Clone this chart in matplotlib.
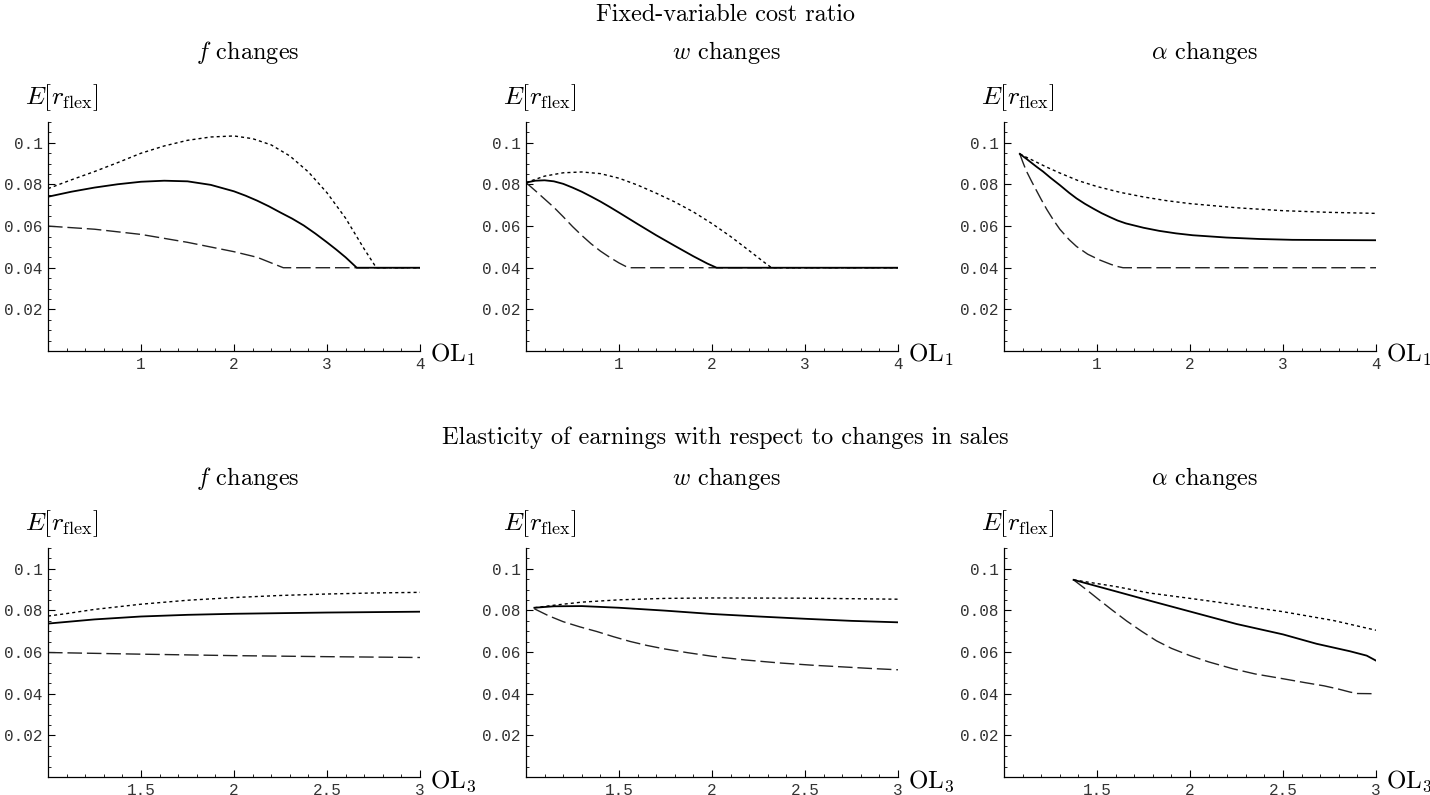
import numpy as np
import matplotlib
matplotlib.use("Agg")
import matplotlib.pyplot as plt
from matplotlib.ticker import MultipleLocator

plt.rcParams['mathtext.fontset'] = 'cm'
plt.rcParams['font.family'] = 'cmr10'
plt.rcParams['axes.unicode_minus'] = False
plt.rcParams['axes.formatter.use_mathtext'] = True

# Row titles and panel titles
row_titles = ["Fixed-variable cost ratio",
              "Elasticity of earnings with respect to changes in sales"]
panel_titles = [r"$f$ changes", r"$w$ changes", r"$\alpha$ changes"]
x_labels = [r"$\mathrm{OL}_1$", r"$\mathrm{OL}_3$"]

# Tick values / labels
y_ticks = [0.02, 0.04, 0.06, 0.08, 0.1]
y_tick_labels = ["0.02", "0.04", "0.06", "0.08", "0.1"]
x_ticks_top = [1, 2, 3, 4]
x_tick_labels_top = ["1", "2", "3", "4"]
x_ticks_bot = [1.5, 2, 2.5, 3]
x_tick_labels_bot = ["1.5", "2", "2.5", "3"]

# ---- Top row: fixed-variable cost ratio (OL1) ----
# f changes
a_dot_x = [0, 0.25, 0.5, 0.75, 1.0, 1.25, 1.5, 1.75, 2.0, 2.2, 2.4, 2.6, 2.8, 3.0, 3.2, 3.4, 3.53, 4.0]
a_dot_y = [0.0780, 0.0822, 0.0862, 0.0905, 0.0950, 0.0985, 0.1012, 0.1028, 0.1033, 0.1020,
           0.0990, 0.0937, 0.0860, 0.0760, 0.0638, 0.0490, 0.040, 0.040]
a_sol_x = [0, 0.25, 0.5, 0.75, 1.0, 1.25, 1.5, 1.75, 2.0, 2.125, 2.25, 2.375, 2.5, 2.625,
           2.75, 2.875, 3.0, 3.1, 3.2, 3.26, 3.32, 4.0]
a_sol_y = [0.0741, 0.0765, 0.0785, 0.0801, 0.0813, 0.0818, 0.0815, 0.0798, 0.0767, 0.0746,
           0.0722, 0.0695, 0.0665, 0.0636, 0.0603, 0.0564, 0.0522, 0.0487, 0.0450, 0.0425,
           0.040, 0.040]
a_das_x = [0, 0.5, 1.0, 1.5, 2.0, 2.25, 2.53, 4.0]
a_das_y = [0.0600, 0.0585, 0.0560, 0.0522, 0.0477, 0.0450, 0.040, 0.040]

# w changes
b_dot_x = [0, 0.2, 0.4, 0.6, 0.8, 1.0, 1.2, 1.4, 1.6, 1.8, 2.0, 2.2, 2.4, 2.55, 2.64, 4.0]
b_dot_y = [0.0809, 0.0840, 0.0856, 0.0860, 0.0852, 0.0830, 0.0797, 0.0758, 0.0716, 0.0668,
           0.0612, 0.0550, 0.0482, 0.0430, 0.040, 0.040]
b_sol_x = [0, 0.1, 0.2, 0.3, 0.4, 0.5, 0.6, 0.7, 0.8, 0.9, 1.0, 1.2, 1.4, 1.6, 1.8, 1.95, 2.05, 4.0]
b_sol_y = [0.0809, 0.0818, 0.0820, 0.0815, 0.0803, 0.0785, 0.0765, 0.0742, 0.0718, 0.0692,
           0.0665, 0.0610, 0.0556, 0.0505, 0.0455, 0.0420, 0.040, 0.040]
b_das_x = [0, 0.1, 0.2, 0.3, 0.4, 0.5, 0.6, 0.7, 0.8, 0.9, 1.0, 1.1, 4.0]
b_das_y = [0.0809, 0.0770, 0.0730, 0.0690, 0.0645, 0.0598, 0.0555, 0.0515, 0.0480, 0.0450,
           0.0423, 0.040, 0.040]

# alpha changes
c_dot_x = [0.17, 0.22, 0.3, 0.45, 0.6, 0.8, 1.0, 1.25, 1.5, 1.75, 2.0, 2.5, 3.0, 3.5, 4.0]
c_dot_y = [0.0947, 0.0935, 0.0918, 0.0885, 0.0855, 0.0818, 0.0790, 0.0762, 0.0740, 0.0722,
           0.0708, 0.0688, 0.0674, 0.0666, 0.0661]
c_sol_x = [0.17, 0.25, 0.35, 0.42, 0.5, 0.6, 0.7, 0.78, 0.87, 0.96, 1.05, 1.14, 1.22, 1.31,
           1.5, 1.67, 1.85, 2.03, 2.39, 2.75, 3.1, 3.5, 4.0]
c_sol_y = [0.0947, 0.0920, 0.0885, 0.0862, 0.0832, 0.0797, 0.0760, 0.0733, 0.0707, 0.0684,
           0.0662, 0.0643, 0.0627, 0.0613, 0.0592, 0.0577, 0.0565, 0.0556, 0.0545, 0.0538,
           0.0534, 0.0533, 0.0532]
c_das_x = [0.17, 0.2, 0.24, 0.3, 0.35, 0.4, 0.46, 0.53, 0.6, 0.7, 0.78, 0.9, 1.03, 1.15,
           1.22, 1.28, 4.0]
c_das_y = [0.0947, 0.0910, 0.0865, 0.0812, 0.0770, 0.0728, 0.0680, 0.0630, 0.0585, 0.0535,
           0.0502, 0.0465, 0.0437, 0.0416, 0.0406, 0.040, 0.040]

# ---- Bottom row: elasticity of earnings (OL3) ----
# f changes
d_dot_x = [1.0, 1.1, 1.25, 1.5, 1.75, 2.0, 2.25, 2.5, 2.75, 3.0]
d_dot_y = [0.0773, 0.0785, 0.0805, 0.0830, 0.0849, 0.0862, 0.0872, 0.0879, 0.0884, 0.0887]
d_sol_x = [1.0, 1.1, 1.25, 1.5, 1.75, 2.0, 2.5, 3.0]
d_sol_y = [0.0737, 0.0745, 0.0757, 0.0771, 0.0779, 0.0784, 0.0790, 0.0794]
d_das_x = [1.0, 1.5, 2.0, 2.5, 3.0]
d_das_y = [0.0598, 0.0590, 0.0583, 0.0578, 0.0574]

# w changes
e_dot_x = [1.045, 1.15, 1.3, 1.5, 1.75, 2.0, 2.5, 3.0]
e_dot_y = [0.0813, 0.0825, 0.0840, 0.0851, 0.0858, 0.0860, 0.0859, 0.0854]
e_sol_x = [1.045, 1.15, 1.3, 1.5, 1.75, 2.0, 2.25, 2.5, 2.75, 3.0]
e_sol_y = [0.0813, 0.0820, 0.0821, 0.0813, 0.0799, 0.0783, 0.0771, 0.0760, 0.0750, 0.0743]
e_das_x = [1.045, 1.12, 1.2, 1.29, 1.38, 1.47, 1.56, 1.65, 1.74, 1.87, 2.0, 2.18, 2.36,
           2.54, 2.72, 2.86, 3.0]
e_das_y = [0.0808, 0.0775, 0.0746, 0.0721, 0.0699, 0.0674, 0.0651, 0.0632, 0.0616, 0.0597,
           0.0580, 0.0562, 0.0548, 0.0537, 0.0528, 0.0521, 0.0515]

# alpha changes
f_dot_x = [1.374, 1.6, 1.78, 2.0, 2.14, 2.5, 2.77, 3.0]
f_dot_y = [0.0947, 0.0915, 0.0884, 0.0858, 0.0841, 0.0794, 0.0752, 0.0705]
f_sol_x = [1.374, 1.6, 1.8, 2.0, 2.25, 2.5, 2.68, 2.86, 2.95, 3.0]
f_sol_y = [0.0947, 0.0892, 0.0843, 0.0795, 0.0735, 0.0685, 0.0640, 0.0604, 0.0583, 0.0559]
f_das_x = [1.374, 1.45, 1.51, 1.58, 1.66, 1.74, 1.82, 1.9, 2.0, 2.1, 2.23, 2.35, 2.5, 2.62,
           2.72, 2.8, 2.86, 2.9, 3.0]
f_das_y = [0.0947, 0.0895, 0.0852, 0.0803, 0.0749, 0.0700, 0.0654, 0.0618, 0.0583, 0.0553,
           0.0520, 0.0495, 0.0472, 0.0453, 0.0438, 0.0422, 0.0408, 0.0401, 0.040]

panels = [
    [(a_dot_x, a_dot_y), (a_sol_x, a_sol_y), (a_das_x, a_das_y)],
    [(b_dot_x, b_dot_y), (b_sol_x, b_sol_y), (b_das_x, b_das_y)],
    [(c_dot_x, c_dot_y), (c_sol_x, c_sol_y), (c_das_x, c_das_y)],
    [(d_dot_x, d_dot_y), (d_sol_x, d_sol_y), (d_das_x, d_das_y)],
    [(e_dot_x, e_dot_y), (e_sol_x, e_sol_y), (e_das_x, e_das_y)],
    [(f_dot_x, f_dot_y), (f_sol_x, f_sol_y), (f_das_x, f_das_y)],
]

FW, FH = 1430, 795
fig = plt.figure(figsize=(FW / 100, FH / 100), dpi=100)

lefts = [48, 526, 1004]
bottoms = [FH - 351, FH - 777]
W, H = 372, 229
row_title_y = [15, 438]

mono = 'Liberation Mono'

for r in range(2):
    fig.text(725 / FW, 1 - row_title_y[r] / FH, row_titles[r],
             ha='center', va='center', fontsize=17.5)
    for c in range(3):
        ax = fig.add_axes([lefts[c] / FW, bottoms[r] / FH, W / FW, H / FH])
        (dx, dy), (sx, sy), (kx, ky) = panels[r * 3 + c]
        ax.plot(kx, ky, color='#222222', lw=1.0, linestyle=(0, (10.5, 3.5)))
        ax.plot(dx, dy, color='black', lw=1.0, linestyle=(0, (2.2, 2.2)))
        ax.plot(sx, sy, color='black', lw=1.3, linestyle='-')

        if r == 0:
            ax.set_xlim(0, 4)
            ax.set_xticks(x_ticks_top, labels=x_tick_labels_top)
            ax.xaxis.set_minor_locator(MultipleLocator(0.2))
        else:
            ax.set_xlim(1, 3)
            ax.set_xticks(x_ticks_bot, labels=x_tick_labels_bot)
            ax.xaxis.set_minor_locator(MultipleLocator(0.1))
        ax.set_ylim(0, 0.11)
        ax.set_yticks(y_ticks, labels=y_tick_labels)
        ax.yaxis.set_minor_locator(MultipleLocator(0.005))

        for lbl in ax.get_xticklabels() + ax.get_yticklabels():
            lbl.set_fontfamily(mono)
            lbl.set_fontsize(11.5)
            lbl.set_color('#333333')

        ax.tick_params(which='major', direction='in', length=5, width=0.8, pad=4)
        ax.tick_params(which='minor', direction='in', length=2.5, width=0.6)
        ax.spines['top'].set_visible(False)
        ax.spines['right'].set_visible(False)
        for s in ['left', 'bottom']:
            ax.spines[s].set_linewidth(0.9)
        ax.patch.set_alpha(0)

        ax.text(0.538, 1 + 69 / H, panel_titles[c], transform=ax.transAxes,
                ha='center', va='center', fontsize=17.5)
        ax.text(-23 / W, 1 + 24 / H, r"$E[r_{\rm flex}]$", transform=ax.transAxes,
                ha='left', va='center', fontsize=18.5)
        ax.text(1 + 10 / W, -4 / H, x_labels[r], transform=ax.transAxes,
                ha='left', va='center', fontsize=18)

fig.savefig("out.png", dpi=100)
